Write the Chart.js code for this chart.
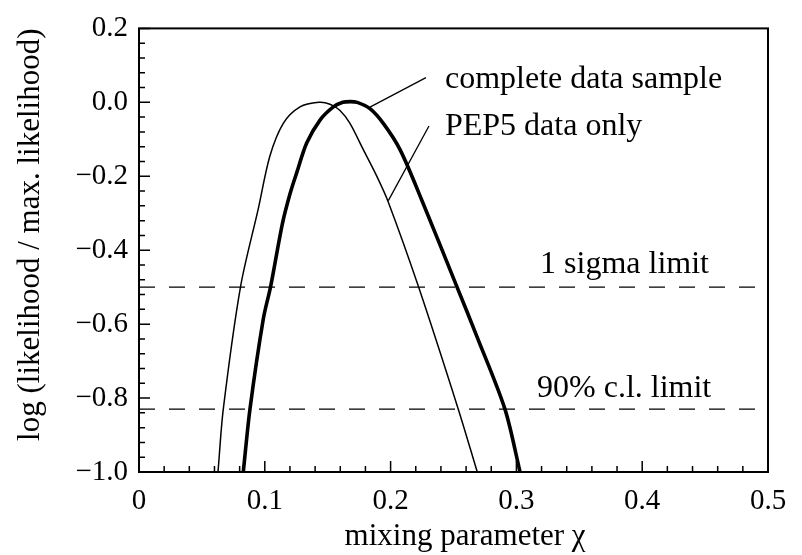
<!DOCTYPE html>
<html>
<head>
<meta charset="utf-8">
<script src="https://cdn.jsdelivr.net/npm/chart.js@4"></script>
<style>
body { margin: 0; background: #fff; }
</style>
</head>
<body>
<canvas id="likeChart" width="802" height="555"></canvas>
<script>
const xTicks = [0, 0.1, 0.2, 0.3, 0.4, 0.5];
const xTickLabels = ['0', '0.1', '0.2', '0.3', '0.4', '0.5'];
const yTicks = [-1.0, -0.8, -0.6, -0.4, -0.2, 0.0, 0.2];
const yTickLabels = ['\u22121.0', '\u22120.8', '\u22120.6', '\u22120.4', '\u22120.2', '0.0', '0.2'];

// complete data sample (thick curve)
const completeX = [0.0829, 0.0882, 0.0988, 0.1047, 0.1140, 0.1200, 0.1254, 0.1333, 0.1439, 0.1545, 0.1620, 0.1680, 0.1735, 0.1836, 0.1942, 0.2075, 0.2245, 0.2525, 0.2688, 0.2909, 0.3029];
const completeY = [-1.0, -0.83, -0.586, -0.497, -0.328, -0.248, -0.19, -0.11, -0.048, -0.0125, 0.0, 0.002, 0.0, -0.017, -0.057, -0.128, -0.262, -0.497, -0.635, -0.83, -1.0];

// PEP5 data only (thin curve)
const pep5X = [0.0628, 0.0670, 0.0808, 0.0948, 0.1040, 0.1147, 0.1280, 0.1430, 0.1518, 0.1598, 0.1677, 0.1783, 0.1889, 0.1982, 0.2220, 0.2538, 0.2689];
const pep5Y = [-1.0, -0.83, -0.497, -0.288, -0.146, -0.057, -0.0125, 0.0, -0.005, -0.022, -0.057, -0.128, -0.199, -0.27, -0.497, -0.83, -1.0];

// limits
const sigmaLimit = -0.5;
const clLimit = -0.83;
const limitX = [0, 0.494];

// pointer lines from labels to curves
const leaderCompleteX = [0.1836, 0.2281];
const leaderCompleteY = [-0.013, 0.067];
const leaderPep5X = [0.1982, 0.2305];
const leaderPep5Y = [-0.266, -0.064];

const notes = [
    { text: 'complete data sample', x: 0.2432, y: 0.04 },
    { text: 'PEP5 data only', x: 0.2432, y: -0.088 },
    { text: '1 sigma limit', x: 0.3188, y: -0.461 },
    { text: '90% c.l. limit', x: 0.3164, y: -0.797 }
];

const pts = (xs, ys) => xs.map((v, i) => ({ x: v, y: ys[i] }));

const frameTicks = {
    id: 'frameTicks',
    afterDraw(chart) {
        const { ctx, chartArea: a, scales: { x, y } } = chart;
        ctx.save();
        ctx.strokeStyle = '#000';
        ctx.lineWidth = 2;
        ctx.strokeRect(a.left, a.top, a.right - a.left, a.bottom - a.top);
        ctx.lineWidth = 1.5;
        ctx.beginPath();
        for (let i = 0; i <= 25; i++) {
            const px = x.getPixelForValue(i * 0.02);
            const len = i % 5 === 0 ? 11 : 6;
            ctx.moveTo(px, a.bottom);
            ctx.lineTo(px, a.bottom - len);
        }
        for (let i = 0; i <= 30; i++) {
            const py = y.getPixelForValue(-1 + i * 0.04);
            const len = i % 5 === 0 ? 11 : 6;
            ctx.moveTo(a.left, py);
            ctx.lineTo(a.left + len, py);
        }
        ctx.stroke();
        ctx.font = '32px "Liberation Serif"';
        ctx.fillStyle = '#000';
        ctx.textBaseline = 'alphabetic';
        notes.forEach(n => ctx.fillText(n.text, x.getPixelForValue(n.x), y.getPixelForValue(n.y)));
        ctx.restore();
    }
};

Chart.defaults.color = '#000';
Chart.defaults.font.family = '"Liberation Serif", serif';

const ctx = document.getElementById('likeChart').getContext('2d');
const likeChart = new Chart(ctx, {
    type: 'line',
    data: {
        datasets: [{
            label: 'complete data sample',
            data: pts(completeX, completeY),
            borderColor: '#000',
            borderWidth: 3.6,
            tension: 0.3
        }, {
            label: 'PEP5 data only',
            data: pts(pep5X, pep5Y),
            borderColor: '#000',
            borderWidth: 1.5,
            tension: 0.3
        }, {
            label: '1 sigma limit',
            data: pts(limitX, [sigmaLimit, sigmaLimit]),
            borderColor: '#000',
            borderWidth: 1.3,
            borderDash: [16, 14]
        }, {
            label: '90% c.l. limit',
            data: pts(limitX, [clLimit, clLimit]),
            borderColor: '#000',
            borderWidth: 1.3,
            borderDash: [16, 14]
        }, {
            label: 'pointer complete',
            data: pts(leaderCompleteX, leaderCompleteY),
            borderColor: '#000',
            borderWidth: 1.3
        }, {
            label: 'pointer PEP5',
            data: pts(leaderPep5X, leaderPep5Y),
            borderColor: '#000',
            borderWidth: 1.3
        }]
    },
    options: {
        responsive: false,
        animation: false,
        devicePixelRatio: 1,
        elements: { point: { radius: 0 } },
        layout: { padding: { top: 22, right: 34, left: 0, bottom: 0 } },
        plugins: { legend: { display: false }, tooltip: { enabled: false } },
        scales: {
            x: {
                type: 'linear',
                min: 0,
                max: 0.5,
                afterBuildTicks: s => { s.ticks = xTicks.map(v => ({ value: v })); },
                afterFit: s => { s.height = 83; },
                grid: { display: false, drawTicks: false },
                border: { display: false },
                ticks: {
                    font: { size: 29 },
                    padding: 12,
                    maxRotation: 0,
                    callback: (v, i) => xTickLabels[i]
                },
                title: {
                    display: true,
                    text: '   mixing parameter \u03c7',
                    font: { size: 31 },
                    padding: { top: 2, bottom: 0 }
                }
            },
            y: {
                type: 'linear',
                min: -1.0,
                max: 0.2,
                afterBuildTicks: s => { s.ticks = yTicks.map(v => ({ value: v })); },
                afterFit: s => { s.width = 139; },
                grid: { display: false, drawTicks: false },
                border: { display: false },
                ticks: {
                    font: { size: 29 },
                    padding: 11,
                    callback: (v, i) => yTickLabels[i]
                },
                title: {
                    display: true,
                    text: '    log (likelihood / max. likelihood)',
                    font: { size: 31 },
                    padding: { top: 12, bottom: 0 }
                }
            }
        }
    },
    plugins: [frameTicks]
});
</script>
</body>
</html>
